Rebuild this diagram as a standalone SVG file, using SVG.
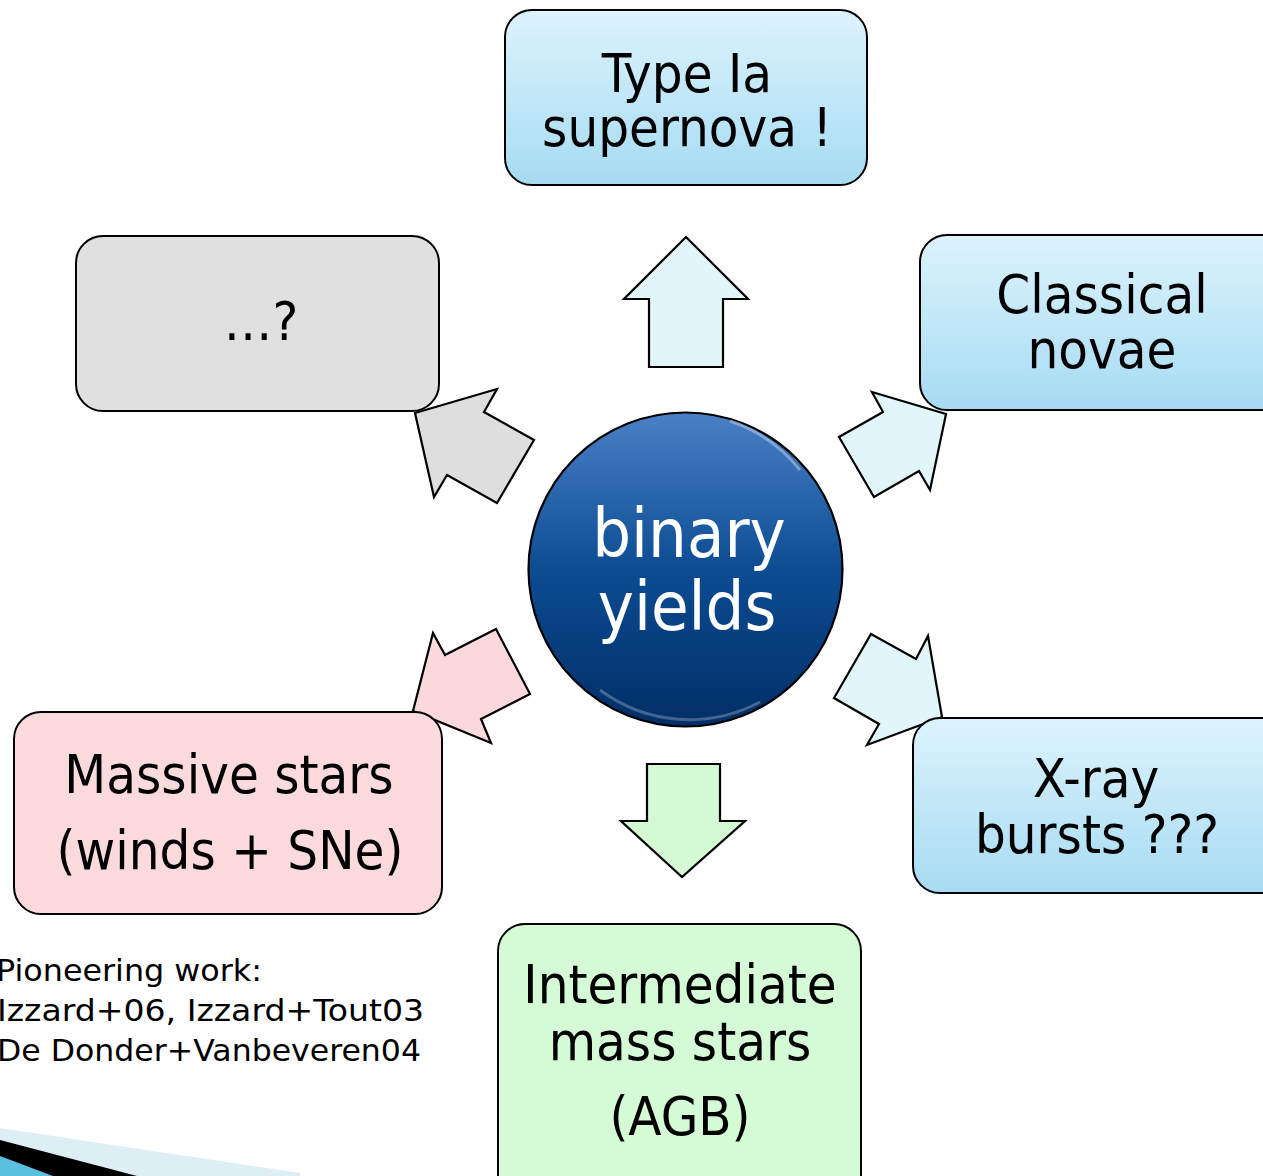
<svg xmlns="http://www.w3.org/2000/svg" width="1263" height="1176" viewBox="0 0 1263 1176">
<defs>
<linearGradient id="gBlue" x1="0" y1="0" x2="0" y2="1">
<stop offset="0" stop-color="#DDF3FD"/>
<stop offset="1" stop-color="#A6DBF2"/>
</linearGradient>
<linearGradient id="gBall" x1="0" y1="0" x2="0" y2="1">
<stop offset="0" stop-color="#4A80C6"/>
<stop offset="0.5" stop-color="#0C4C93"/>
<stop offset="1" stop-color="#022E66"/>
</linearGradient>
<style>
.box{stroke:#000;stroke-width:2}
.arr{stroke:#000;stroke-width:2.2;stroke-linejoin:miter}
.lbl{font-family:"DejaVu Sans Condensed","DejaVu Sans",sans-serif;font-size:54px;fill:#000;text-anchor:middle}
.ball{font-family:"DejaVu Sans Condensed","DejaVu Sans",sans-serif;font-size:68px;fill:#fff;text-anchor:middle}
.note{font-family:"DejaVu Sans",sans-serif;font-size:31px;fill:#000}
</style>
</defs>
<rect width="1263" height="1176" fill="#fff"/>

<g id="decoration">
<polygon points="0,1128 300,1173 300,1176 0,1176" fill="#DDEEF5"/>
<polygon points="0,1140 137,1176 0,1176" fill="#000"/>
<polygon points="0,1156 53,1176 0,1176" fill="#5BBFE0"/>
</g>

<g id="connectors">
<polygon class="arr" fill="#E2F5F9" points="686,237 748,299 723,299 723,367 649,367 649,299 624,299"/>
<polygon class="arr" fill="#D4FAD4" points="647,764 720,764 720,821 745,821 682,877 621,821 647,821"/>
<polygon class="arr" fill="#DEDEDE" points="415,413 497,389 484,412 534,440 497,503 447,475 434,497"/>
<polygon class="arr" fill="#E2F5F9" points="946,414 930,490 919,471 874,497 839,437 883,412 872,392"/>
<polygon class="arr" fill="#E2F5F9" points="942,717 867,745 879,724 834,698 871,634 916,659 928,636"/>
<polygon class="arr" fill="#FAD9DC" points="413,711 433,633 445,655 496,629 530,694 481,719 491,743"/>
</g>

<g id="n-typeIa">
<rect class="box" x="505" y="10" width="362" height="175" rx="27" fill="url(#gBlue)"/>
<text class="lbl" x="687" y="92">Type Ia</text>
<text class="lbl" x="687" y="146">supernova !</text>
</g>

<g id="n-unknown">
<rect class="box" x="76" y="236" width="363" height="175" rx="27" fill="#E0E0E0"/>
<text class="lbl" x="261" y="340">…?</text>
</g>

<g id="n-novae">
<rect class="box" x="920" y="235" width="370" height="175" rx="27" fill="url(#gBlue)"/>
<text class="lbl" x="1102" y="313">Classical</text>
<text class="lbl" x="1102" y="368">novae</text>
</g>

<g id="n-xray">
<rect class="box" x="913" y="718" width="380" height="175" rx="27" fill="url(#gBlue)"/>
<text class="lbl" x="1096" y="797">X-ray</text>
<text class="lbl" x="1097" y="853">bursts ???</text>
</g>

<g id="n-massive">
<rect class="box" x="14" y="712" width="428" height="202" rx="27" fill="#FADADD"/>
<text class="lbl" x="229" y="793">Massive stars</text>
<text class="lbl" x="230" y="869">(winds + SNe)</text>
</g>

<g id="n-intermediate">
<rect class="box" x="498" y="924" width="363" height="280" rx="27" fill="#D4FAD6"/>
<text class="lbl" x="680" y="1003">Intermediate</text>
<text class="lbl" x="680" y="1060">mass stars</text>
<text class="lbl" x="680" y="1135">(AGB)</text>
</g>

<g id="n-binary">
<circle cx="685.5" cy="569.5" r="157" fill="url(#gBall)" stroke="#000" stroke-width="2.2"/>
<path d="M 730 421 A 150 150 0 0 1 800 470" fill="none" stroke="#fff" stroke-opacity="0.35" stroke-width="3"/>
<path d="M 600 690 A 150 150 0 0 0 760 702" fill="none" stroke="#fff" stroke-opacity="0.25" stroke-width="3"/>
<text class="ball" x="689" y="557">binary</text>
<text class="ball" x="687" y="630">yields</text>
</g>

<g id="notes">
<text class="note" x="-4" y="981" textLength="266" lengthAdjust="spacingAndGlyphs">Pioneering work:</text>
<text class="note" x="-3" y="1021" textLength="427" lengthAdjust="spacingAndGlyphs">Izzard+06, Izzard+Tout03</text>
<text class="note" x="-3" y="1061" textLength="424" lengthAdjust="spacingAndGlyphs">De Donder+Vanbeveren04</text>
</g>
</svg>
